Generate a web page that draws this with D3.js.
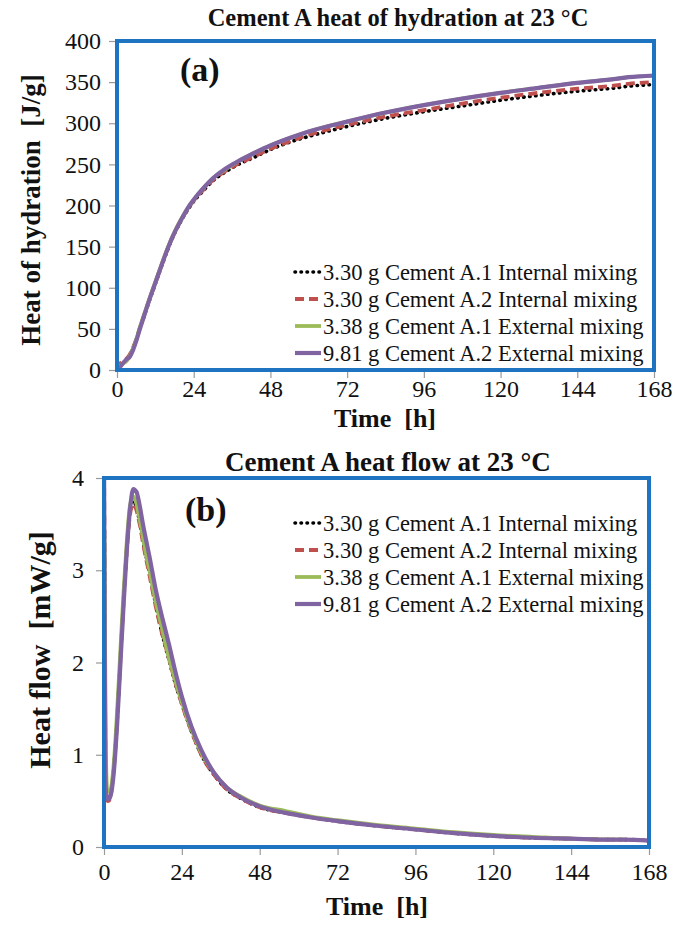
<!DOCTYPE html>
<html>
<head>
<meta charset="utf-8">
<script src="https://cdn.jsdelivr.net/npm/d3@7.9.0/dist/d3.min.js"></script>
<style>
  body { margin: 0; background: #fff; }
  svg text { font-family: "Liberation Serif", "Times New Roman", serif; fill: #111; }
</style>
</head>
<body>
<svg id="chart" width="675" height="929"></svg>
<script>
// legend labels, one per series
const seriesNames = [
  '3.30 g Cement A.1 Internal mixing',
  '3.30 g Cement A.2 Internal mixing',
  '3.38 g Cement A.1 External mixing',
  '9.81 g Cement A.2 External mixing'
];

const timeTicks = [0, 24, 48, 72, 96, 120, 144, 168];
const heatTicks = [0, 50, 100, 150, 200, 250, 300, 350, 400];
const flowTicks = [0, 1, 2, 3, 4];

// (a) cumulative heat of hydration [J/g]
const hydrationTime = [0, 1, 2, 3, 4, 5, 6, 7, 8, 10, 12, 14, 16, 18, 20, 22, 24, 27, 30, 34, 38, 42, 48, 54, 60, 72, 84, 96, 108, 120, 132, 144, 156, 160, 168];
const heatA1Internal = [0, 6, 9, 12, 18, 27, 37, 49, 60, 83, 105, 127, 148, 166, 181, 194, 205, 218, 230, 241, 250, 257, 268, 277, 284, 296, 306, 314, 321, 328, 334, 339, 343, 345, 347];
const heatA2Internal = [0, 8, 11, 14, 19, 27, 37, 49, 61, 84, 106, 128, 149, 167, 182, 195, 206, 219, 231, 242, 251, 258, 269, 278, 286, 298, 308, 316, 324, 331, 337, 342, 346, 348, 350];
const heatA1External = [0, 5, 8, 11, 17, 26, 37, 50, 62, 85, 107, 129, 150, 168, 183, 196, 207, 221, 233, 244, 254, 262, 273, 282, 290, 302, 313, 322, 330, 337, 343, 349, 354, 356, null];
const heatA2External = [0, 4, 9, 13, 16, 24, 35, 48, 60, 84, 106, 128, 149, 167, 182, 196, 207, 221, 233, 245, 254, 262, 273, 282, 290, 302, 313, 322, 330, 337, 343, 349, 354, 356, 358];

// (b) heat flow [mW/g]
const flowTime = [0, 0.15, 0.3, 0.6, 1, 1.5, 2, 3, 4, 5, 6, 7, 8, 9, 10, 11, 12, 14, 16, 18, 20, 22, 24, 27, 30, 34, 38, 42, 48, 56, 64, 72, 84, 96, 108, 120, 132, 144, 156, 160, 168];
const flowA1Internal = [4.2, 3.1, 1.6, 0.65, 0.5, 0.52, 0.56, 0.85, 1.35, 2.0, 2.65, 3.2, 3.62, 3.75, 3.68, 3.52, 3.32, 2.98, 2.62, 2.3, 2.03, 1.77, 1.55, 1.25, 1.0, 0.78, 0.62, 0.53, 0.43, 0.37, 0.32, 0.28, 0.23, 0.19, 0.15, 0.12, 0.1, 0.09, 0.08, 0.08, 0.07];
const flowA2Internal = [4.2, 3.2, 1.8, 0.7, 0.5, 0.5, 0.55, 0.85, 1.35, 2.0, 2.65, 3.2, 3.6, 3.72, 3.65, 3.5, 3.3, 2.95, 2.6, 2.3, 2.05, 1.78, 1.55, 1.25, 1.0, 0.78, 0.62, 0.53, 0.43, 0.37, 0.32, 0.28, 0.23, 0.19, 0.15, 0.12, 0.1, 0.09, 0.08, 0.08, 0.07];
const flowA1External = [3.5, 3.3, 2.4, 1.0, 0.62, 0.6, 0.62, 0.9, 1.45, 2.1, 2.75, 3.3, 3.7, 3.8, 3.72, 3.55, 3.35, 3.0, 2.65, 2.35, 2.05, 1.8, 1.57, 1.27, 1.02, 0.8, 0.64, 0.55, 0.45, 0.39, 0.33, 0.29, 0.24, 0.2, 0.16, 0.13, 0.11, 0.09, 0.08, 0.08, null];
const flowA2External = [4.2, 3.0, 1.5, 0.6, 0.52, 0.52, 0.55, 0.8, 1.3, 1.95, 2.6, 3.2, 3.65, 3.88, 3.85, 3.7, 3.5, 3.15, 2.78, 2.48, 2.2, 1.9, 1.63, 1.3, 1.05, 0.8, 0.64, 0.54, 0.44, 0.37, 0.32, 0.28, 0.23, 0.19, 0.15, 0.12, 0.1, 0.09, 0.08, 0.08, 0.07];

// line look per series: dotted black, dashed red, solid green, solid purple
const seriesStyles = [
  { color: '#000000', width: 3.6, dash: '0.5 5.5', cap: 'round' },
  { color: '#c0504d', width: 3.8, dash: '9 5', cap: 'butt' },
  { color: '#9bbb59', width: 3.8, dash: null, cap: 'butt' },
  { color: '#8064a2', width: 4.2, dash: null, cap: 'butt' }
];

const svg = d3.select('#chart');

function drawPanel(cfg) {
  let x = d3.scaleLinear().domain([0, 168]).range([cfg.left, cfg.right]);
  let y = d3.scaleLinear().domain(cfg.yDomain).range([cfg.bottom, cfg.top]);
  let g = svg.append('g');

  // clip so the early spike stays inside the frame
  g.append('clipPath').attr('id', cfg.id + '-clip')
    .append('rect')
    .attr('x', cfg.left).attr('y', cfg.top)
    .attr('width', cfg.right - cfg.left).attr('height', cfg.bottom - cfg.top);

  // axes: small grey ticks outside, no domain line
  let yAxis = g.append('g')
    .attr('transform', `translate(${cfg.left},0)`)
    .call(d3.axisLeft(y).tickValues(cfg.yTicks).tickFormat(d3.format('d')).tickSize(8).tickPadding(cfg.yPad));
  let xAxis = g.append('g')
    .attr('transform', `translate(0,${cfg.bottom})`)
    .call(d3.axisBottom(x).tickValues(timeTicks).tickSize(8).tickPadding(cfg.xPad));
  [yAxis, xAxis].forEach(a => {
    a.select('.domain').remove();
    a.selectAll('line').attr('stroke', '#9a9a9a').attr('stroke-width', 1.2);
    a.selectAll('text').attr('font-size', cfg.tickFont).attr('font-family', 'Liberation Serif').attr('fill', '#111');
  });

  // series
  let line = d3.line()
    .defined(d => d[1] != null)
    .x(d => x(d[0])).y(d => y(d[1]))
    .curve(d3.curveMonotoneX);
  let lines = g.append('g').attr('clip-path', `url(#${cfg.id}-clip)`);
  cfg.series.forEach((vals, i) => {
    let st = seriesStyles[i];
    lines.append('path')
      .datum(d3.zip(cfg.time, vals))
      .attr('d', line)
      .attr('fill', 'none')
      .attr('stroke', st.color)
      .attr('stroke-width', st.width)
      .attr('stroke-dasharray', st.dash)
      .attr('stroke-linecap', st.cap);
  });

  // blue frame
  g.append('rect')
    .attr('x', cfg.left).attr('y', cfg.top)
    .attr('width', cfg.right - cfg.left).attr('height', cfg.bottom - cfg.top)
    .attr('fill', 'none').attr('stroke', '#1f74c2').attr('stroke-width', 4);

  // panel letter
  g.append('text')
    .attr('x', cfg.tagX).attr('y', cfg.tagY)
    .attr('font-size', 34).attr('font-weight', 'bold')
    .text(cfg.tag);

  // legend
  let legend = g.append('g');
  seriesNames.forEach((name, i) => {
    let st = seriesStyles[i];
    let ly = cfg.legendY + i * 27;
    legend.append('line')
      .attr('x1', cfg.legendX - 28).attr('x2', cfg.legendX - 2)
      .attr('y1', ly).attr('y2', ly)
      .attr('stroke', st.color).attr('stroke-width', st.width)
      .attr('stroke-dasharray', st.dash).attr('stroke-linecap', st.cap);
    legend.append('text')
      .attr('x', cfg.legendX).attr('y', ly)
      .attr('dy', '0.35em')
      .attr('font-size', 22.5)
      .text(name);
  });

  // titles
  svg.append('text')
    .attr('x', cfg.titleX).attr('y', cfg.titleY)
    .attr('text-anchor', 'middle')
    .attr('font-size', cfg.titleFont).attr('font-weight', 'bold')
    .text(cfg.title);
  svg.append('text')
    .attr('x', cfg.xLabelX).attr('y', cfg.xLabelY)
    .attr('text-anchor', 'middle')
    .attr('font-size', 26).attr('font-weight', 'bold')
    .style('white-space', 'pre')
    .text('Time  [h]');
  svg.append('text')
    .attr('transform', `translate(${cfg.yLabelX},${cfg.yLabelCY}) rotate(-90)`)
    .attr('text-anchor', 'middle')
    .attr('font-size', cfg.yLabelFont).attr('font-weight', 'bold')
    .style('white-space', 'pre')
    .text(cfg.yLabel);
}

drawPanel({
  id: 'a', left: 117, right: 654, top: 41, bottom: 370,
  yDomain: [0, 400], yTicks: heatTicks,
  time: hydrationTime,
  series: [heatA1Internal, heatA2Internal, heatA1External, heatA2External],
  tickFont: 24, xPad: 2, yPad: 8,
  tag: '(a)', tagX: 180, tagY: 81,
  legendX: 323, legendY: 272,
  title: 'Cement A heat of hydration at 23 °C', titleX: 398, titleY: 26, titleFont: 24.5,
  xLabelX: 385, xLabelY: 427,
  yLabel: 'Heat of hydration  [J/g]', yLabelX: 40, yLabelCY: 210, yLabelFont: 27
});

drawPanel({
  id: 'b', left: 104, right: 649, top: 478, bottom: 847,
  yDomain: [0, 4], yTicks: flowTicks,
  time: flowTime,
  series: [flowA1Internal, flowA2Internal, flowA1External, flowA2External],
  tickFont: 24, xPad: 8, yPad: 12,
  tag: '(b)', tagX: 185, tagY: 521,
  legendX: 323, legendY: 523,
  title: 'Cement A heat flow at 23 °C', titleX: 388, titleY: 471, titleFont: 27,
  xLabelX: 377, xLabelY: 915,
  yLabel: 'Heat flow  [mW/g]', yLabelX: 50, yLabelCY: 650, yLabelFont: 30
});
</script>
</body>
</html>
